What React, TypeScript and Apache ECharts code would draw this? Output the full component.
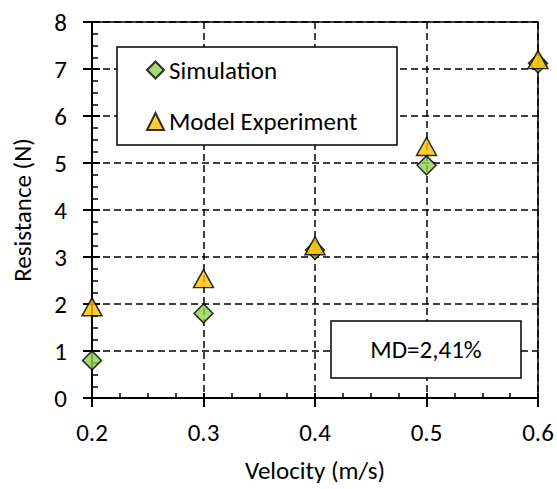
import React, { useEffect, useRef } from "react";
import * as echarts from "echarts";

const velocities = [0.2, 0.3, 0.4, 0.5, 0.6];
const simulation = [0.8, 1.8, 3.15, 4.95, 7.12];
const modelExperiment = [1.94, 2.54, 3.24, 5.35, 7.2];
const seriesNames = ["Simulation", "Model Experiment"];
const mdLabel = "MD=2,41%";

const FONT = "Carlito, Lato, sans-serif";
const FS = 25;

export default function App() {
  const ref = useRef<HTMLDivElement>(null);
  useEffect(() => {
    if (!ref.current) return;
    const chart = echarts.init(ref.current, undefined, { renderer: "svg" });
    const gridLeft = 92, gridTop = 22, gridRight = 19, gridBottom = 91;
    const baseX = {
      type: "value",
      min: 0.2,
      max: 0.6,
      interval: 0.1,
      position: "bottom",
    };
    const baseY = {
      type: "value",
      min: 0,
      max: 8,
      interval: 1,
      position: "left",
    };
    chart.setOption({
      animation: false,
      textStyle: { fontFamily: FONT },
      grid: {
        left: gridLeft,
        top: gridTop,
        right: gridRight,
        bottom: gridBottom,
        show: true,
        borderColor: "#000",
        borderWidth: 1.5,
        backgroundColor: "#fff",
      },
      xAxis: [
        {
          ...baseX,
          name: "Velocity (m/s)",
          nameLocation: "middle",
          nameGap: 60,
          nameTextStyle: { fontSize: FS, color: "#000", fontFamily: FONT },
          axisLine: { show: true, lineStyle: { color: "#000", width: 2 } },
          axisTick: { show: true, inside: false, length: 9, lineStyle: { color: "#000", width: 2 } },
          axisLabel: {
            fontSize: FS,
            color: "#000",
            margin: 22,
            fontFamily: FONT,
            formatter: (v: number) => v.toFixed(1),
          },
          splitLine: { show: true, lineStyle: { color: "#000", width: 1.5, type: [7, 4] } },
        },
        {
          ...baseX,
          axisLine: { show: false },
          axisTick: { show: true, inside: true, length: 5, lineStyle: { color: "#000", width: 2 } },
          minorTick: { show: true, splitNumber: 4, length: 5, lineStyle: { color: "#000", width: 1.5 } },
          axisLabel: { show: false },
          splitLine: { show: false },
        },
      ],
      yAxis: [
        {
          ...baseY,
          name: "Resistance (N)",
          nameLocation: "middle",
          nameGap: 57,
          nameTextStyle: { fontSize: FS, color: "#000", fontFamily: FONT },
          axisLine: { show: true, lineStyle: { color: "#000", width: 2 } },
          axisTick: { show: true, inside: false, length: 9, lineStyle: { color: "#000", width: 2 } },
          axisLabel: { fontSize: FS, color: "#000", margin: 25, fontFamily: FONT },
          splitLine: { show: true, lineStyle: { color: "#000", width: 1.5, type: [7, 4] } },
        },
        {
          ...baseY,
          axisLine: { show: false },
          axisTick: { show: true, inside: true, length: 8, lineStyle: { color: "#000", width: 2 } },
          minorTick: { show: true, splitNumber: 4, length: 6, lineStyle: { color: "#000", width: 1.5 } },
          axisLabel: { show: false },
          splitLine: { show: false },
        },
      ],
      legend: [
        {
          data: [seriesNames[0]],
          left: 146,
          top: 57.5,
          padding: 0,
          itemWidth: 17,
          itemHeight: 17,
          itemGap: 5,
          textStyle: { fontSize: FS, color: "#000", fontFamily: FONT },
          z: 20,
        },
        {
          data: [seriesNames[1]],
          left: 146,
          top: 109,
          padding: 0,
          itemWidth: 17,
          itemHeight: 17,
          textStyle: { fontSize: FS, color: "#000", fontFamily: FONT },
          z: 20,
        },
      ],
      graphic: [
        {
          type: "rect",
          z: 10,
          shape: { x: 117, y: 47, width: 280, height: 98 },
          style: { fill: "#fff", stroke: "#000", lineWidth: 1.5 },
        },
        {
          type: "rect",
          z: 10,
          shape: { x: 331, y: 321, width: 190, height: 57 },
          style: { fill: "#fff", stroke: "#000", lineWidth: 1.5 },
        },
        {
          type: "text",
          z: 11,
          x: 426,
          y: 349.5,
          style: {
            text: mdLabel,
            fontSize: FS,
            fontFamily: FONT,
            fill: "#000",
            align: "center",
            verticalAlign: "middle",
          },
        },
      ],
      series: [
        {
          name: seriesNames[0],
          type: "scatter",
          symbol: "diamond",
          symbolSize: [19, 19],
          z: 30,
          itemStyle: { color: "#92D050", borderColor: "#000", borderWidth: 1.5 },
          data: velocities.map((v, i) => [v, simulation[i]]),
        },
        {
          name: seriesNames[1],
          type: "scatter",
          symbol: "triangle",
          symbolSize: [20, 18],
          z: 31,
          itemStyle: { color: "#FFC000", borderColor: "#000", borderWidth: 1.5 },
          data: velocities.map((v, i) => [v, modelExperiment[i]]),
        },
      ],
    });
    return () => chart.dispose();
  }, []);
  return <div ref={ref} style={{ width: 557, height: 489, position: "absolute", left: 0, top: 0 }} />;
}
